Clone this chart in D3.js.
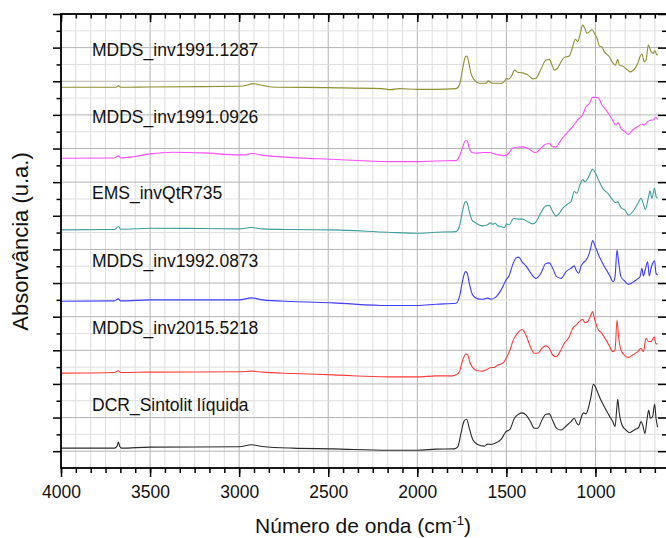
<!DOCTYPE html>
<html>
<head>
<meta charset="utf-8">
<script src="https://cdn.jsdelivr.net/npm/d3@7/dist/d3.min.js"></script>
<style>
  body { margin: 0; background: #fff; }
  svg { display: block; font-family: "Liberation Sans", Arial, sans-serif; }
</style>
</head>
<body>
<svg id="chart" width="666" height="538"></svg>
<script>
// FTIR spectra, stacked with offsets (wavenumber cm-1, absorbance a.u.)
const xTicks = [4000, 3500, 3000, 2500, 2000, 1500, 1000];
const seriesNames = ["MDDS_inv1991.1287", "MDDS_inv1991.0926", "EMS_invQtR735",
                     "MDDS_inv1992.0873", "MDDS_inv2015.5218", "DCR_Sintolit líquida"];
const seriesColors = ["#8f8f33", "#ff4dff", "#3f9e9e", "#3d3dff", "#ff3d3d", "#2a2a2a"];

const mdds1287 = [[4000,11.32],[3800,11.32],[3690,11.32],[3678,11.37],[3665,11.32],[3500,11.33],[3200,11.34],[3000,11.35],[2950,11.39],[2925,11.43],[2880,11.39],[2820,11.33],[2500,11.31],[2200,11.28],[2150,11.25],[2100,11.28],[2000,11.26],[1895,11.26],[1783,11.28],[1764,11.39],[1745,11.88],[1730,12.23],[1721,12.25],[1712,12.08],[1699,11.74],[1680,11.54],[1652,11.44],[1614,11.44],[1601,11.51],[1590,11.47],[1577,11.44],[1530,11.44],[1512,11.49],[1498,11.59],[1487,11.56],[1468,11.69],[1455,11.83],[1437,11.77],[1409,11.75],[1380,11.69],[1352,11.57],[1334,11.59],[1306,11.86],[1278,12.13],[1259,12.15],[1244,11.98],[1231,11.83],[1212,11.89],[1193,12.08],[1175,12.21],[1147,12.25],[1128,12.53],[1113,12.75],[1100,12.68],[1087,12.88],[1072,13.17],[1059,13.07],[1049,12.93],[1034,12.97],[1019,13.04],[1006,12.93],[991,12.78],[978,12.55],[965,12.53],[950,12.38],[922,12.23],[903,12.05],[888,11.98],[875,12.15],[866,11.98],[847,11.95],[819,11.83],[804,11.78],[782,11.86],[763,12.03],[750,12.23],[739,12.31],[726,12.08],[716,12.13],[703,12.58],[688,12.38],[675,12.33],[666,12.41],[655,12.28],[651,12.30]];

const mdds0926 = [[4000,9.21],[3700,9.22],[3678,9.28],[3665,9.22],[3600,9.25],[3500,9.34],[3370,9.39],[3200,9.37],[3000,9.31],[2960,9.31],[2930,9.36],[2880,9.31],[2700,9.23],[2473,9.18],[2165,9.11],[2000,9.11],[1895,9.13],[1783,9.14],[1764,9.26],[1745,9.55],[1730,9.73],[1721,9.73],[1708,9.51],[1693,9.38],[1670,9.36],[1633,9.38],[1596,9.38],[1558,9.33],[1512,9.29],[1487,9.36],[1465,9.51],[1437,9.54],[1409,9.55],[1380,9.51],[1352,9.41],[1334,9.38],[1306,9.51],[1281,9.63],[1259,9.65],[1240,9.55],[1221,9.55],[1203,9.67],[1184,9.82],[1156,9.98],[1128,10.15],[1100,10.35],[1072,10.50],[1053,10.74],[1034,10.84],[1016,11.02],[997,11.02],[982,10.99],[965,10.81],[941,10.65],[913,10.43],[885,10.20],[872,10.27],[857,10.10],[834,10.00],[815,9.92],[791,10.05],[763,10.15],[739,10.23],[726,10.20],[707,10.30],[688,10.35],[675,10.35],[664,10.43],[651,10.37]];

const emsQtR735 = [[4000,7.08],[3700,7.09],[3678,7.18],[3665,7.10],[3500,7.13],[3200,7.12],[3000,7.11],[2930,7.15],[2870,7.11],[2700,7.09],[2473,7.08],[2165,7.01],[2000,6.98],[1895,7.01],[1783,7.03],[1764,7.18],[1745,7.67],[1730,7.92],[1721,7.89],[1708,7.62],[1693,7.37],[1670,7.28],[1633,7.20],[1605,7.23],[1592,7.29],[1577,7.25],[1562,7.28],[1549,7.20],[1530,7.18],[1512,7.15],[1498,7.26],[1483,7.23],[1461,7.42],[1437,7.40],[1409,7.40],[1380,7.32],[1352,7.26],[1334,7.32],[1306,7.59],[1281,7.79],[1259,7.81],[1240,7.62],[1221,7.49],[1203,7.57],[1184,7.72],[1156,7.85],[1137,7.92],[1119,8.22],[1105,8.17],[1087,8.42],[1072,8.58],[1059,8.51],[1038,8.66],[1016,8.88],[1001,8.78],[982,8.56],[960,8.32],[931,8.17],[903,7.97],[885,7.89],[875,7.92],[857,7.74],[834,7.67],[814,7.52],[791,7.62],[763,7.85],[744,8.02],[735,7.92],[720,7.69],[701,8.09],[694,8.24],[683,8.02],[668,8.32],[660,8.07],[651,8.02]];

const mdds0873 = [[4000,4.96],[3700,4.97],[3678,5.03],[3665,4.97],[3500,5.00],[3000,5.00],[2930,5.06],[2870,5.00],[2700,4.95],[2473,4.91],[2165,4.83],[2000,4.83],[1895,4.87],[1783,4.90],[1764,5.08],[1745,5.59],[1730,5.84],[1721,5.81],[1708,5.49],[1689,5.14],[1661,5.03],[1633,5.02],[1605,5.05],[1586,5.02],[1558,5.09],[1530,5.29],[1502,5.59],[1483,5.74],[1465,6.04],[1446,6.24],[1431,6.27],[1412,6.13],[1390,6.01],[1362,5.79],[1334,5.64],[1306,5.79],[1281,6.07],[1259,6.10],[1240,5.94],[1218,5.69],[1193,5.64],[1165,5.84],[1137,5.94],[1119,6.01],[1109,5.89],[1094,5.79],[1081,6.01],[1068,6.10],[1053,6.18],[1038,6.33],[1025,6.58],[1016,6.76],[1001,6.58],[978,6.28],[950,5.99],[922,5.74],[900,5.54],[890,5.69],[879,6.48],[870,6.13],[857,5.69],[838,5.57],[814,5.46],[791,5.52],[767,5.61],[750,5.69],[739,5.94],[731,5.71],[720,5.91],[707,6.13],[698,5.71],[688,5.94],[679,6.09],[668,6.16],[660,5.79],[651,5.74]];

const mdds5218 = [[4000,2.82],[3700,2.84],[3678,2.89],[3665,2.84],[3500,2.85],[3000,2.86],[2930,2.88],[2870,2.85],[2700,2.81],[2473,2.77],[2165,2.71],[2000,2.71],[1895,2.74],[1801,2.74],[1783,2.77],[1764,2.86],[1745,3.21],[1727,3.39],[1717,3.36],[1704,3.13],[1685,2.96],[1661,2.89],[1633,2.88],[1605,2.94],[1586,2.99],[1568,2.99],[1549,3.06],[1530,3.09],[1512,3.16],[1498,3.29],[1480,3.51],[1461,3.81],[1437,4.01],[1412,4.12],[1390,3.95],[1367,3.63],[1343,3.41],[1324,3.41],[1300,3.56],[1278,3.63],[1259,3.56],[1240,3.36],[1221,3.31],[1199,3.46],[1175,3.71],[1147,3.90],[1128,4.15],[1109,4.25],[1091,4.35],[1072,4.42],[1059,4.32],[1044,4.35],[1029,4.50],[1016,4.65],[1006,4.45],[988,4.15],[965,4.01],[941,3.81],[922,3.63],[903,3.46],[890,3.51],[879,4.40],[870,3.90],[857,3.51],[838,3.36],[814,3.29],[791,3.36],[763,3.46],[744,3.56],[731,3.46],[716,3.86],[703,3.76],[688,3.76],[670,3.90],[660,3.69],[651,3.69]];

const dcrSintolit = [[4000,0.59],[3700,0.59],[3685,0.65],[3678,0.77],[3670,0.64],[3660,0.59],[3500,0.62],[3000,0.63],[2930,0.69],[2870,0.64],[2700,0.59],[2473,0.57],[2165,0.53],[2000,0.53],[1895,0.56],[1792,0.57],[1773,0.63],[1755,1.03],[1736,1.41],[1723,1.45],[1708,1.18],[1689,0.85],[1661,0.70],[1624,0.65],[1605,0.71],[1586,0.70],[1558,0.75],[1530,0.85],[1502,1.08],[1480,1.15],[1455,1.48],[1437,1.58],[1412,1.64],[1390,1.58],[1365,1.38],[1343,1.18],[1324,1.18],[1300,1.43],[1278,1.60],[1259,1.61],[1240,1.41],[1218,1.18],[1193,1.13],[1165,1.25],[1137,1.38],[1119,1.48],[1105,1.33],[1094,1.28],[1081,1.48],[1068,1.64],[1053,1.61],[1038,1.82],[1025,2.12],[1012,2.49],[1001,2.42],[978,2.12],[950,1.82],[922,1.55],[903,1.38],[890,1.23],[881,1.72],[875,2.04],[866,1.63],[851,1.28],[829,1.13],[810,1.05],[782,1.13],[757,1.21],[744,1.38],[735,1.28],[722,1.03],[711,1.43],[701,1.72],[692,1.48],[679,1.53],[668,1.90],[660,1.48],[651,1.21]];

const allSeries = [mdds1287, mdds0926, emsQtR735, mdds0873, mdds5218, dcrSintolit];

const svg = d3.select('#chart');
const pLeft = 61, pRight = 667, pTop = 14, pBottom = 468;

const x = d3.scaleLinear().domain([4000, 604]).range([pLeft, 666]);
const y = d3.scaleLinear().domain([0, 13.5]).range([pBottom, pTop]);

// minor ticks every 500/6 cm-1, majors every 500
const xMinor = d3.range(0, 41).map(k => 4000 - k * 500 / 6).filter(v => v >= 604);
const yAll = d3.range(1, 28).map(k => k * 0.5);
const yMajor = yAll.filter((v, i) => i % 2 === 0);   // 0.5, 1.5, ...
const yMinor = yAll.filter((v, i) => i % 2 === 1);

// grid
const grid = svg.append('g');
xMinor.forEach((v, k) => {
	grid.append('line')
		.attr('x1', x(v)).attr('x2', x(v))
		.attr('y1', pTop).attr('y2', pBottom)
		.attr('stroke', k % 6 === 0 ? '#b4b4b4' : '#dedede')
		.attr('stroke-width', 1);
});
yAll.forEach((v, i) => {
	grid.append('line')
		.attr('x1', pLeft).attr('x2', pRight)
		.attr('y1', y(v)).attr('y2', y(v))
		.attr('stroke', i % 2 === 0 ? '#b4b4b4' : '#dedede')
		.attr('stroke-width', 1);
});

// spectra
const line = d3.line().x(d => x(d[0])).y(d => y(d[1])).curve(d3.curveMonotoneX);
allSeries.forEach((s, i) => {
	svg.append('path')
		.datum(s)
		.attr('d', line)
		.attr('fill', 'none')
		.attr('stroke', seriesColors[i])
		.attr('stroke-width', 1.1)
		.attr('stroke-linejoin', 'round');
});

// series labels
const labelBase = [56, 122.7, 199.3, 267, 333.5, 410.5];
seriesNames.forEach((n, i) => {
	svg.append('text')
		.attr('x', 92).attr('y', labelBase[i])
		.attr('font-size', 17.5)
		.attr('fill', '#111')
		.text(n);
});

// axes
const fmt = d3.format('d');
const bottomAxis = svg.append('g').attr('transform', `translate(0,${pBottom})`)
	.call(d3.axisBottom(x).tickValues(xTicks).tickFormat(fmt).tickSizeInner(9).tickSizeOuter(0).tickPadding(8.5));
svg.append('g').attr('transform', `translate(0,${pBottom})`)
	.call(d3.axisBottom(x).tickValues(xMinor).tickFormat('').tickSizeInner(5).tickSizeOuter(0));
svg.append('g').attr('transform', `translate(0,${pTop})`)
	.call(d3.axisTop(x).tickValues(xTicks).tickFormat('').tickSizeInner(-8).tickSizeOuter(0));
svg.append('g').attr('transform', `translate(0,${pTop})`)
	.call(d3.axisTop(x).tickValues(xMinor).tickFormat('').tickSizeInner(-4.5).tickSizeOuter(0));
svg.append('g').attr('transform', `translate(${pLeft},0)`)
	.call(d3.axisLeft(y).tickValues(yMajor).tickFormat('').tickSizeInner(8).tickSizeOuter(0));
svg.append('g').attr('transform', `translate(${pLeft},0)`)
	.call(d3.axisLeft(y).tickValues(yMinor).tickFormat('').tickSizeInner(4.5).tickSizeOuter(0));
svg.append('g').attr('transform', `translate(${pRight},0)`)
	.call(d3.axisRight(y).tickValues(yMajor).tickFormat('').tickSizeInner(-9).tickSizeOuter(0));
svg.append('g').attr('transform', `translate(${pRight},0)`)
	.call(d3.axisRight(y).tickValues(yMinor).tickFormat('').tickSizeInner(-5).tickSizeOuter(0));

svg.selectAll('.tick line').attr('stroke', '#000').attr('stroke-width', 1.5);
svg.selectAll('.domain').remove();
bottomAxis.selectAll('text')
	.attr('font-size', 17.5)
	.attr('font-family', '"Liberation Sans", Arial, sans-serif')
	.attr('fill', '#111');

// frame
svg.append('rect')
	.attr('x', pLeft).attr('y', pTop)
	.attr('width', pRight - pLeft).attr('height', pBottom - pTop)
	.attr('fill', 'none')
	.attr('stroke', '#000')
	.attr('stroke-width', 1.8);

// axis titles
const xt = svg.append('text')
	.attr('x', 363).attr('y', 533)
	.attr('text-anchor', 'middle')
	.attr('font-size', 21)
	.attr('fill', '#111')
	.text('Número de onda (cm');
xt.append('tspan').attr('font-size', 13).attr('dy', -8).text('-1');
xt.append('tspan').attr('dy', 8).text(')');

svg.append('text')
	.attr('transform', 'translate(28,241.5) rotate(-90)')
	.attr('text-anchor', 'middle')
	.attr('font-size', 22)
	.attr('fill', '#111')
	.text('Absorvância (u.a.)');
</script>
</body>
</html>
